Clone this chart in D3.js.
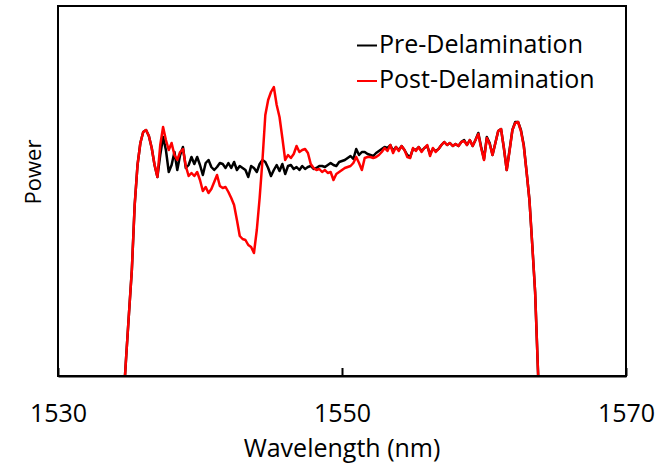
<!DOCTYPE html>
<html>
<head>
<meta charset="utf-8">
<script src="https://cdn.jsdelivr.net/npm/d3@7"></script>
<style>
  body { margin: 0; background: #fff; }
  svg { display: block; font-family: "Open Sans", sans-serif; }
</style>
</head>
<body>
<svg width="669" height="463"></svg>
<script>
"use strict";

// wavelength samples (nm)
var wavelength = [
    1534.6, 1534.8, 1535.0, 1535.2, 1535.4, 1535.6, 1535.8, 1536.0, 1536.2, 1536.4,
    1536.6, 1536.8, 1537.0, 1537.2, 1537.4, 1537.6, 1537.8, 1538.0, 1538.2, 1538.4,
    1538.6, 1538.8, 1539.0, 1539.2, 1539.4, 1539.6, 1539.8, 1540.0, 1540.2, 1540.4,
    1540.6, 1540.8, 1541.0, 1541.2, 1541.4, 1541.6, 1541.8, 1542.0, 1542.2, 1542.4,
    1542.6, 1542.8, 1543.0, 1543.2, 1543.4, 1543.6, 1543.8, 1544.0, 1544.2, 1544.4,
    1544.6, 1544.8, 1545.0, 1545.2, 1545.4, 1545.6, 1545.8, 1546.0, 1546.2, 1546.4,
    1546.6, 1546.8, 1547.0, 1547.2, 1547.4, 1547.6, 1547.8, 1548.0, 1548.2, 1548.4,
    1548.6, 1548.8, 1549.0, 1549.2, 1549.4, 1549.6, 1549.8, 1550.0, 1550.2, 1550.4,
    1550.6, 1550.8, 1551.0, 1551.2, 1551.4, 1551.6, 1551.8, 1552.0, 1552.2, 1552.4,
    1552.6, 1552.8, 1553.0, 1553.2, 1553.4, 1553.6, 1553.8, 1554.0, 1554.2, 1554.4,
    1554.6, 1554.8, 1555.0, 1555.2, 1555.4, 1555.6, 1555.8, 1556.0, 1556.2, 1556.4,
    1556.6, 1556.8, 1557.0, 1557.2, 1557.4, 1557.6, 1557.8, 1558.0, 1558.2, 1558.4,
    1558.6, 1558.8, 1559.0, 1559.2, 1559.4, 1559.6, 1559.8, 1560.0, 1560.2, 1560.4,
    1560.6, 1560.8, 1561.0, 1561.2, 1561.4, 1561.6, 1561.8, 1562.0, 1562.2, 1562.4,
    1562.6, 1562.8, 1563.0, 1563.2, 1563.4, 1563.6, 1563.8, 1564.0
];

// power, arbitrary units
var preDelamination = [
    -27, 19, 63, 106, 171, 211, 233, 244, 246, 240,
    228, 211, 199, 221, 239, 226, 204, 211, 224, 206,
    221, 229, 208, 211, 219, 212, 219, 211, 201, 213,
    216, 209, 206, 209, 213, 212, 208, 213, 208, 214,
    206, 210, 208, 206, 199, 210, 208, 204, 212, 216,
    214, 208, 200, 206, 211, 205, 212, 202, 210, 211,
    207, 209, 206, 210, 207, 209, 210, 207, 208, 210,
    210, 209, 211, 213, 211, 210, 214, 215, 216, 218,
    220, 217, 227, 221, 224, 224, 222, 221, 220, 223,
    225, 227, 229, 228, 231, 225, 229, 226, 230, 226,
    221, 219, 227, 226, 229, 225, 228, 230, 222, 227,
    225, 227, 231, 234, 231, 233, 230, 232, 230, 234,
    236, 231, 236, 230, 236, 243, 229, 217, 239, 233,
    221, 233, 245, 247, 228, 206, 226, 246, 254, 254,
    246, 231, 204, 176, 131, 84, 6, -70
];

var postDelamination = [
    -27, 19, 63, 106, 171, 211, 233, 244, 246, 240,
    228, 211, 199, 231, 249, 236, 226, 233, 221, 216,
    224, 227, 210, 200, 203, 200, 204, 196, 185, 189,
    183, 187, 194, 201, 190, 188, 189, 184, 178, 171,
    156, 140, 137, 136, 131, 129, 123, 146, 178, 216,
    261, 276, 284, 289, 271, 259, 238, 216, 221, 218,
    222, 230, 224, 226, 227, 223, 212, 208, 206, 207,
    204, 206, 203, 204, 196, 202, 204, 206, 208, 209,
    210, 213, 219, 213, 206, 218, 219, 219, 218, 219,
    221, 224, 228, 225, 231, 223, 229, 225, 230, 226,
    219, 218, 228, 225, 229, 224, 228, 231, 220, 228,
    224, 227, 231, 234, 231, 233, 230, 232, 230, 234,
    235, 231, 236, 230, 236, 242, 228, 216, 238, 232,
    221, 233, 245, 247, 228, 206, 225, 246, 253, 254,
    245, 230, 204, 176, 131, 84, 6, -70
];

var xTicks = [1530, 1550, 1570];
var seriesNames = ["Pre-Delamination", "Post-Delamination"];
var seriesColors = ["#000000", "#ff0000"];

var margin = { top: 6, left: 58 };
var width = 568;
var height = 370;

var svg = d3.select("svg");

var x = d3.scaleLinear().domain([1530, 1570]).range([0, width]);
var y = d3.scaleLinear().domain([0, 370]).range([height, 0]);

svg.append("defs")
    .append("clipPath")
    .attr("id", "plot-clip")
    .append("rect")
    .attr("width", width)
    .attr("height", height);

var g = svg.append("g")
    .attr("transform", "translate(" + margin.left + "," + margin.top + ")");

// Lines
var series = [preDelamination, postDelamination];

var line = d3.line()
    .x(function (d, i) {
        return x(wavelength[i]);
    })
    .y(function (d) {
        return y(d);
    });

g.append("g")
    .attr("clip-path", "url(#plot-clip)")
    .selectAll("path.series")
    .data(series)
    .enter()
    .append("path")
    .classed("series", true)
    .attr("fill", "none")
    .attr("stroke", function (d, i) {
        return seriesColors[i];
    })
    .attr("stroke-width", 2.5)
    .attr("stroke-linejoin", "round")
    .attr("d", line);

// Frame
g.append("rect")
    .attr("width", width)
    .attr("height", height)
    .attr("fill", "none")
    .attr("stroke", "#000")
    .attr("stroke-width", 2);

// X axis
g.append("g")
    .attr("transform", "translate(0," + height + ")")
    .call(d3.axisBottom(x).tickValues(xTicks).tickFormat(d3.format("d"))
        .tickSizeInner(-8).tickSizeOuter(0))
    .call(function (a) {
        a.select(".domain").attr("stroke-width", 2);
        a.selectAll(".tick line").attr("stroke-width", 2);
        a.selectAll("text")
            .attr("y", 46)
            .attr("dy", null)
            .attr("font-size", 25)
            .attr("font-family", "Open Sans")
            .attr("fill", "#000");
    });

svg.append("text")
    .attr("x", margin.left + width / 2)
    .attr("y", 457)
    .attr("text-anchor", "middle")
    .attr("font-size", 25)
    .text("Wavelength (nm)");

svg.append("text")
    .attr("transform", "translate(41,172) rotate(-90)")
    .attr("text-anchor", "middle")
    .attr("font-size", 22)
    .text("Power");

// Legend
var legend = svg.append("g")
    .selectAll("g.legend")
    .data(seriesNames)
    .enter()
    .append("g")
    .classed("legend", true)
    .attr("transform", function (d, i) {
        return "translate(357," + (45.5 + i * 35.5) + ")";
    });

legend.append("line")
    .attr("x1", 0)
    .attr("x2", 20)
    .attr("stroke", function (d, i) {
        return seriesColors[i];
    })
    .attr("stroke-width", 2);

legend.append("text")
    .attr("x", 22)
    .attr("y", 7)
    .attr("font-size", 25)
    .text(function (d) {
        return d;
    });
</script>
</body>
</html>
